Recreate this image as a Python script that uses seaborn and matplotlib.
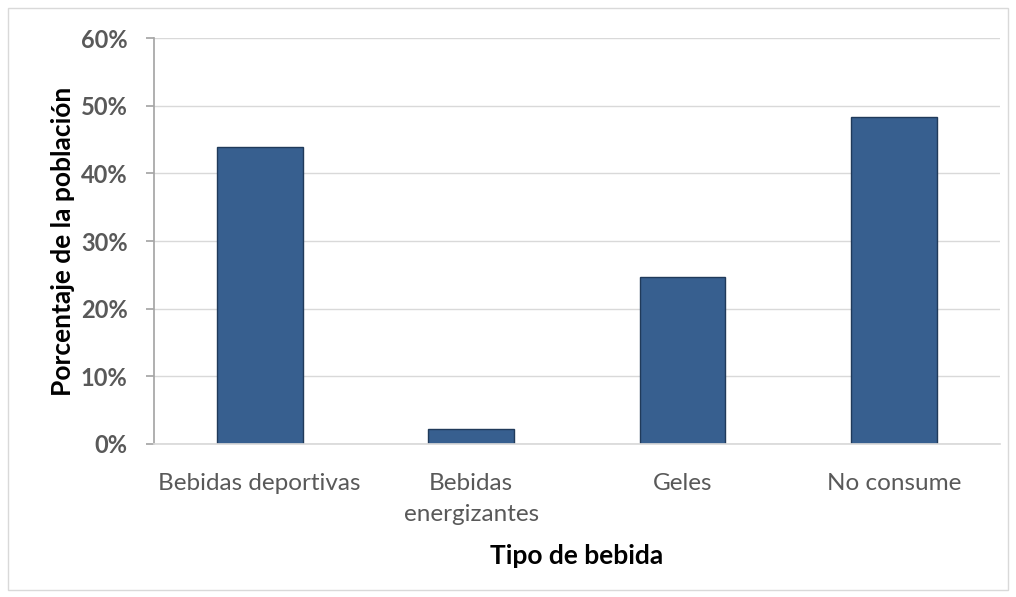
import matplotlib
matplotlib.use("Agg")
import matplotlib.pyplot as plt
import seaborn as sns
import pandas as pd
from matplotlib.ticker import FuncFormatter, MultipleLocator
from matplotlib.patches import Rectangle

categories = ["Bebidas deportivas", "Bebidas\nenergizantes", "Geles", "No consume"]
values = [43.9, 2.2, 24.7, 48.3]

sns.set_theme(style="white")
plt.rcParams['font.family'] = ['Lato', 'DejaVu Sans']

df = pd.DataFrame({"cat": categories, "val": values})

fig = plt.figure(figsize=(10.16, 5.97), dpi=100)
ax = fig.add_axes([0.1516, 0.2563, 0.984 - 0.1516, 0.936 - 0.2563])
sns.barplot(data=df, x="cat", y="val", color="#375F8F", saturation=1, width=0.405,
            edgecolor="#203A5A", linewidth=1.0, ax=ax)

ax.set_ylim(0, 60)
ax.yaxis.set_major_locator(MultipleLocator(10))
ax.yaxis.set_major_formatter(FuncFormatter(lambda v, p: f"{v:.0f}%"))
ax.yaxis.grid(True, color="#D9D9D9", linewidth=1)
ax.set_axisbelow(True)
for s in ["top", "right"]:
    ax.spines[s].set_visible(False)
ax.spines["left"].set_color("#A6A6A6")
ax.spines["bottom"].set_color("#D9D9D9")
ax.tick_params(axis="y", which="major", length=6, color="#A6A6A6", left=True, pad=13,
               labelsize=17, labelcolor="#595959")
ax.tick_params(axis="x", length=0, pad=21, labelsize=17.5, labelcolor="#595959")
for lab in ax.get_yticklabels():
    lab.set_fontweight("bold")
for lab in ax.get_xticklabels():
    lab.set_linespacing(1.55)
ax.set_xlabel("Tipo de bebida", fontsize=19, fontweight="bold", color="black", labelpad=14)
ax.set_ylabel("Porcentaje de la población", fontsize=19, fontweight="bold", color="black", labelpad=4)

fig.patches.append(Rectangle((0.008, 0.012), 0.984, 0.975, transform=fig.transFigure,
                             fill=False, edgecolor="#D9D9D9", linewidth=1))

fig.savefig("out.png", dpi=100)
